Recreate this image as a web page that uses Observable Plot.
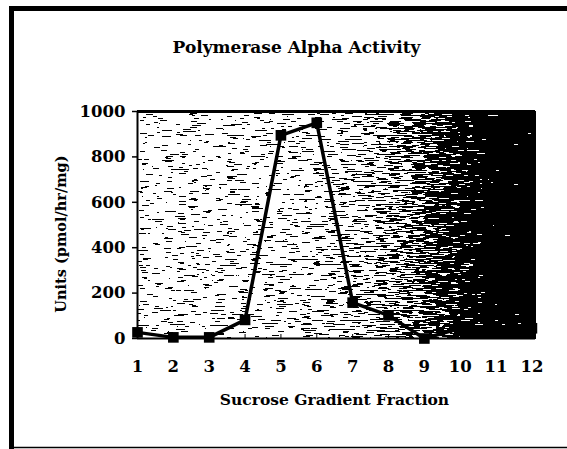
<!DOCTYPE html>
<html>
<head>
<meta charset="utf-8">
<script src="https://cdn.jsdelivr.net/npm/d3@7"></script>
<script src="https://cdn.jsdelivr.net/npm/@observablehq/plot@0.6"></script>
<style>
  html, body { margin: 0; padding: 0; background: #fff; }
  #chart { width: 567px; height: 449px; }
</style>
</head>
<body>
<div id="chart"></div>
<script>
const title = "Polymerase Alpha Activity";
const xTitle = "Sucrose Gradient Fraction";
const yTitle = "Units (pmol/hr/mg)";
const fractions = [1, 2, 3, 4, 5, 6, 7, 8, 9, 10, 11, 12];
const activity = [27, 5, 5, 82, 895, 950, 158, 102, 0, 45, 45, 45];
const yTicks = [0, 200, 400, 600, 800, 1000];

const data = fractions.map((f, i) => ({fraction: f, units: activity[i]}));
const font = "'DejaVu Serif', 'Liberation Serif', serif";

const chart = Plot.plot({
  width: 567,
  height: 449,
  marginLeft: 137,
  marginRight: 32,
  marginTop: 111,
  marginBottom: 111,
  style: {fontFamily: font, fontWeight: "bold", color: "#000", background: "#fff"},
  x: {domain: [1, 12.1], ticks: fractions},
  y: {domain: [0, 1000], ticks: yTicks},
  marks: [
    Plot.frame({fill: "url(#bgGrad)", stroke: "none"}),
    Plot.axisY({ticks: yTicks, tickSize: 5, tickPadding: 7, fontSize: 16.5, label: null, tickFormat: d => String(d), stroke: "#000", strokeWidth: 1.5}),
    Plot.axisX({ticks: fractions, tickSize: -4, tickPadding: 26, fontSize: 16.5, label: null, tickFormat: d => String(d), stroke: "#000"}),
    Plot.ruleX([1], {stroke: "#000", strokeWidth: 2}),
    Plot.ruleY([0], {stroke: "#000", strokeWidth: 2}),
    Plot.ruleY([1000], {stroke: "#000", strokeWidth: 3}),
    Plot.line(data, {x: "fraction", y: "units", stroke: "#000", strokeWidth: 3.5}),
    Plot.dot(data, {x: "fraction", y: "units", symbol: "square", r: 6, fill: "#000", stroke: "none"}),
    Plot.text([title], {frameAnchor: "top", dy: -71, dx: -40, fontSize: 17, fontWeight: "bold", fill: "#000"}),
    Plot.text([xTitle], {frameAnchor: "bottom", dy: 66, dx: -2, fontSize: 15.5, fontWeight: "bold", fill: "#000"}),
    Plot.text([yTitle], {frameAnchor: "left", textAnchor: "middle", dx: -76, dy: 9, rotate: -90, fontSize: 14.5, fontWeight: "bold", fill: "#000"})
  ]
});

const svg = d3.select(chart);
const defs = svg.insert("defs", ":first-child");
const g = defs.append("linearGradient").attr("id", "bgGrad").attr("x1", "0").attr("x2", "1").attr("y1", "0").attr("y2", "0");
[[0, "#c2c2c2"], [0.4, "#b8b8b8"], [0.6, "#9c9c9c"], [0.72, "#737373"], [0.82, "#404040"], [0.9, "#101010"], [1, "#000"]]
  .forEach(([o, c]) => g.append("stop").attr("offset", o).attr("stop-color", c));
// scanned-halftone texture for the plot background
const f = defs.append("filter").attr("id", "tex").attr("x", 0).attr("y", 0).attr("width", 1).attr("height", 1)
  .attr("color-interpolation-filters", "sRGB");
f.append("feTurbulence").attr("type", "fractalNoise").attr("baseFrequency", "0.08 0.8").attr("numOctaves", 2).attr("seed", 4).attr("result", "noise");
f.append("feColorMatrix").attr("in", "noise").attr("type", "matrix")
  .attr("values", "1 0 0 0 0  1 0 0 0 0  1 0 0 0 0  0 0 0 0 1").attr("result", "ng");
f.append("feComposite").attr("in", "SourceGraphic").attr("in2", "ng").attr("operator", "arithmetic")
  .attr("k1", 0).attr("k2", 1).attr("k3", 1.6).attr("k4", -0.8).attr("result", "sum");
const ct = f.append("feComponentTransfer").attr("in", "sum");
["feFuncR", "feFuncG", "feFuncB"].forEach(n => ct.append(n).attr("type", "discrete").attr("tableValues", "0 1"));
svg.selectAll("[aria-label=frame]").attr("filter", "url(#tex)");
// outer page frame
svg.append("path").attr("d", "M11.5,449 V8.5 H567").attr("fill", "none").attr("stroke", "#000").attr("stroke-width", 5);
svg.append("path").attr("d", "M11,447.5 H567").attr("fill", "none").attr("stroke", "#000").attr("stroke-width", 1.5);

document.getElementById("chart").appendChild(chart);
</script>
</body>
</html>
